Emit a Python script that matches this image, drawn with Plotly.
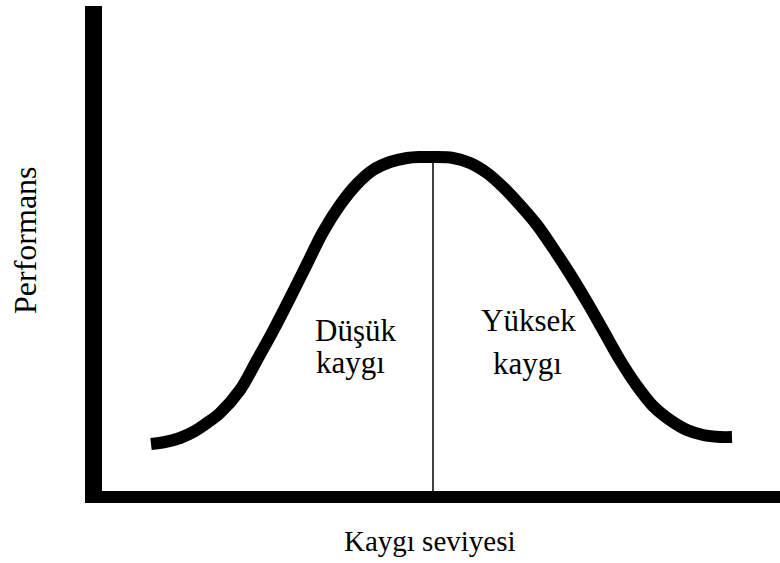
import plotly.graph_objects as go

# curve: px to the right of the y axis / above the x axis
curve_x = [49, 63, 78, 93, 105, 118, 138, 155, 171, 188, 205, 221, 238, 255, 271,
           288, 305, 318, 331, 351, 368, 385, 401, 418, 435, 451, 468, 485, 501,
           518, 535, 551, 568, 585, 601, 618, 630]
curve_y = [47, 49, 53, 60, 68, 78, 101, 131, 160, 193, 227, 259, 286, 307, 321,
           329, 333, 334, 334, 333, 328, 318, 304, 286, 266, 243, 217, 189, 161,
           131, 105, 85, 71, 61, 56, 54, 54]

# boundary between low and high anxiety, under the peak
split_x = [331, 331]
split_y = [0, 330]

font = "Liberation Serif, Times New Roman, serif"

fig = go.Figure()
fig.add_trace(go.Scatter(x=split_x, y=split_y, mode="lines",
                         line=dict(color="black", width=1.5), hoverinfo="skip"))
fig.add_trace(go.Scatter(x=curve_x, y=curve_y, mode="lines",
                         line=dict(color="black", width=12, shape="spline", smoothing=1.0),
                         hoverinfo="skip"))

labels = [
    dict(x=253, y=161, text="Düşük"),
    dict(x=248, y=129, text="kaygı"),
    dict(x=426, y=171, text="Yüksek"),
    dict(x=425, y=128, text="kaygı"),
]
for a in labels:
    fig.add_annotation(xref="x", yref="y", showarrow=False,
                       xanchor="center", yanchor="middle",
                       font=dict(family=font, size=31, color="black"), **a)

# axis titles
fig.add_annotation(xref="x", yref="paper", x=328, y=-0.103, text="Kaygı seviyesi",
                   showarrow=False, xanchor="center", yanchor="middle",
                   font=dict(family=font, size=29, color="black"))
fig.add_annotation(xref="paper", yref="y", x=-0.1136, y=251, text="Performans",
                   textangle=-90, showarrow=False, xanchor="center", yanchor="middle",
                   font=dict(family=font, size=32, color="black"))

fig.update_layout(
    width=780, height=563,
    margin=dict(l=102, r=0, t=6, b=72),
    paper_bgcolor="white", plot_bgcolor="white",
    showlegend=False,
    xaxis=dict(range=[0, 678], showgrid=False, zeroline=False, showticklabels=False,
               ticks="", showline=True, linecolor="black", linewidth=12, fixedrange=True),
    yaxis=dict(range=[0, 485], showgrid=False, zeroline=False, showticklabels=False,
               ticks="", showline=True, linecolor="black", linewidth=17, fixedrange=True),
)

fig.write_html("out.html", config={"displayModeBar": False},
               post_script="document.body.style.margin = '0';")
